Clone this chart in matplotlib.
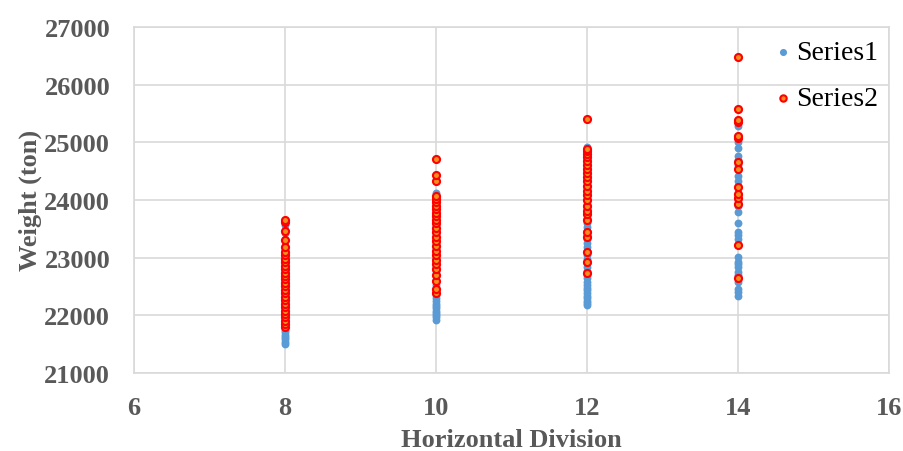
import matplotlib
matplotlib.use("Agg")
import matplotlib.pyplot as plt

# Weight readings per horizontal division
div_s1 = [8] * 30 + [10] * 34 + [12] * 36 + [14] * 30
weight_s1 = [
    # division 8
    21500, 21540, 21580, 21620, 21660, 21700, 21740, 21790, 21850, 21920,
    22000, 22080, 22150, 22230, 22300, 22380, 22450, 22530, 22600, 22680,
    22750, 22820, 22900, 22980, 23050, 23130, 23200, 23300, 23420, 23560,
    # division 10
    21920, 21960, 22000, 22040, 22080, 22120, 22160, 22200, 22250, 22300,
    22350, 22400, 22450, 22520, 22600, 22680, 22760, 22840, 22920, 23000,
    23080, 23160, 23240, 23320, 23400, 23480, 23560, 23640, 23720, 23820,
    23900, 23980, 24050, 24120,
    # division 12
    22170, 22210, 22250, 22290, 22330, 22380, 22430, 22480, 22530, 22580,
    22640, 22700, 22760, 22830, 22900, 22970, 23040, 23110, 23180, 23250,
    23320, 23390, 23460, 23530, 23600, 23680, 23760, 23840, 23930, 24020,
    24110, 24200, 24350, 24500, 24700, 24920,
    # division 14
    22340, 22400, 22460, 22570, 22650, 22700, 22750, 22830, 22880, 22930,
    23010, 23330, 23390, 23440, 23600, 23790, 23900, 24000, 24100, 24230,
    24330, 24420, 24530, 24600, 24700, 24770, 24900, 25000, 25100, 25280,
]

div_s2 = [8] * 28 + [10] * 26 + [12] * 24 + [14] * 14
weight_s2 = [
    # division 8
    21800, 21850, 21900, 21960, 22020, 22080, 22140, 22200, 22260, 22320,
    22380, 22440, 22500, 22560, 22620, 22680, 22740, 22800, 22860, 22920,
    22980, 23040, 23100, 23180, 23300, 23460, 23620, 23650,
    # division 10
    22380, 22450, 22600, 22700, 22800, 22880, 22960, 23040, 23120, 23200,
    23280, 23360, 23440, 23520, 23600, 23660, 23720, 23780, 23840, 23900,
    23960, 24020, 24070, 24330, 24440, 24710,
    # division 12
    22740, 22920, 23100, 23350, 23450, 23650, 23760, 23800, 23900, 24000,
    24080, 24160, 24240, 24320, 24400, 24460, 24540, 24600, 24680, 24740,
    24800, 24850, 24880, 25400,
    # division 14
    22650, 23210, 23930, 24030, 24100, 24230, 24530, 24660, 25080, 25110,
    25360, 25380, 25580, 26480,
]

x_ticks = [6, 8, 10, 12, 14, 16]
y_ticks = [21000, 22000, 23000, 24000, 25000, 26000, 27000]

grey = "#595959"
grid_col = "#d9d9d9"

fig = plt.figure(figsize=(9.04, 4.52), dpi=100)
ax = fig.add_axes([0.148, 0.173, 0.835, 0.765])

ax.scatter(div_s1, weight_s1, s=32, color="#5b9bd5", linewidths=0,
           label="Series1", zorder=3)
ax.scatter(div_s2, weight_s2, s=26, facecolor="#f28e1c", edgecolor="#ff0000",
           linewidths=1.5, label="Series2", zorder=4)

ax.set_xlim(6, 16)
ax.set_ylim(21000, 27000)
ax.set_xticks(x_ticks)
ax.set_yticks(y_ticks)
ax.grid(True, color=grid_col, linewidth=1.2, zorder=0)
ax.tick_params(length=0, labelsize=19, labelcolor=grey)
ax.tick_params(axis="x", pad=17)
ax.tick_params(axis="y", pad=17)
for lab in ax.get_xticklabels() + ax.get_yticklabels():
    lab.set_fontweight("bold")
    lab.set_family("Liberation Serif")
for sp in ax.spines.values():
    sp.set_color(grid_col)
    sp.set_linewidth(1.2)

ax.set_xlabel("Horizontal Division", fontsize=19, fontweight="bold",
              color=grey, family="Liberation Serif", labelpad=6)
ax.set_ylabel("Weight (ton)", fontsize=19, fontweight="bold",
              color=grey, family="Liberation Serif", labelpad=2)

leg = ax.legend(loc="upper right", frameon=False, handletextpad=0.0,
                handlelength=1.0, labelspacing=0.75, borderaxespad=0.0,
                borderpad=0.45, markerscale=0.9,
                prop={"family": "Liberation Serif", "size": 20},
                bbox_to_anchor=(1.003, 1.0))

fig.savefig("out.png", dpi=100)
